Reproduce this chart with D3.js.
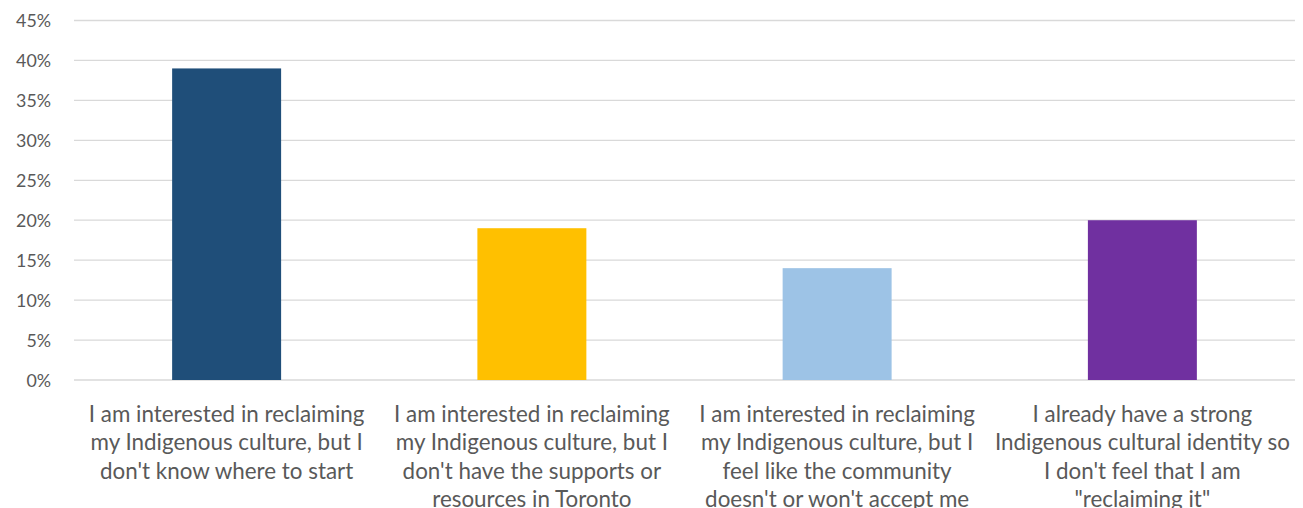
<!DOCTYPE html>
<html>
<head>
<meta charset="utf-8">
<script src="https://cdn.jsdelivr.net/npm/d3@7"></script>
<style>
  html, body { margin: 0; padding: 0; background: #ffffff; }
  svg { display: block; }
  text { font-family: Lato, "Open Sans", sans-serif; fill: #595959; }
</style>
</head>
<body>
<svg id="chart" width="1303" height="508"></svg>
<script>
// Survey responses: relationship to Indigenous culture
const categories = [
  ["I am interested in reclaiming", "my Indigenous culture, but I", "don't know where to start"],
  ["I am interested in reclaiming", "my Indigenous culture, but I", "don't have the supports or", "resources in Toronto"],
  ["I am interested in reclaiming", "my Indigenous culture, but I", "feel like the community", "doesn't or won't accept me"],
  ["I already have a strong", "Indigenous cultural identity so", "I don't feel that I am", "\"reclaiming it\""]
];
const values = [0.39, 0.19, 0.14, 0.20];
const colors = ["#1F4E79", "#FFC000", "#9DC3E6", "#7030A0"];
const yTicks = [0, 0.05, 0.10, 0.15, 0.20, 0.25, 0.30, 0.35, 0.40, 0.45];

const svg = d3.select("#chart");
const margin = { top: 20.5, right: 8, bottom: 128, left: 74 };
const W = 1303, H = 508;
const innerW = W - margin.left - margin.right;
const innerH = H - margin.top - margin.bottom;

const g = svg.append("g").attr("transform", `translate(${margin.left},${margin.top})`);

const x = d3.scaleBand().domain(d3.range(categories.length)).range([0, innerW]).padding(0);
const y = d3.scaleLinear().domain([0, 0.45]).range([innerH, 0]);

// Horizontal gridlines
g.append("g")
  .selectAll("line")
  .data(yTicks)
  .join("line")
  .attr("x1", 0)
  .attr("x2", innerW)
  .attr("y1", d => y(d))
  .attr("y2", d => y(d))
  .attr("stroke", "#D9D9D9")
  .attr("stroke-width", 1.3);

// Y axis labels
const yAxis = d3.axisLeft(y).tickValues(yTicks).tickFormat(d3.format(".0%")).tickSize(0).tickPadding(23);
const yg = g.append("g").call(yAxis);
yg.select(".domain").remove();
yg.selectAll("text").style("font-size", "17.8px").attr("fill", "#595959").attr("dy", "0.36em");

// Bars
const barFrac = 0.357;
g.append("g")
  .selectAll("rect")
  .data(values)
  .join("rect")
  .attr("x", (d, i) => x(i) + x.bandwidth() * (1 - barFrac) / 2)
  .attr("width", x.bandwidth() * barFrac)
  .attr("y", d => y(d))
  .attr("height", d => y(0) - y(d))
  .attr("fill", (d, i) => colors[i]);

// Category labels (wrapped)
const lab = g.append("g").attr("transform", `translate(0,${innerH})`);
categories.forEach((lines, i) => {
  const t = lab.append("text")
    .attr("x", x(i) + x.bandwidth() / 2)
    .attr("y", 0)
    .attr("text-anchor", "middle")
    .style("font-size", "22.4px");
  lines.forEach((line, j) => {
    t.append("tspan")
      .attr("x", x(i) + x.bandwidth() / 2)
      .attr("y", 42 + j * 28.3)
      .text(line);
  });
});
</script>
</body>
</html>
